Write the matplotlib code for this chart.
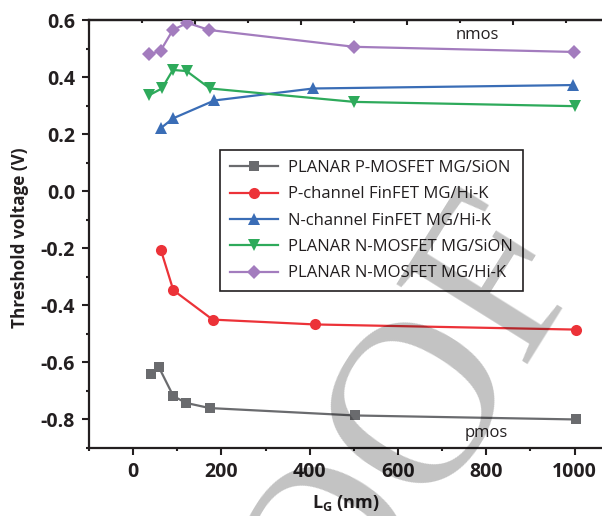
import matplotlib
matplotlib.use("Agg")
import matplotlib.pyplot as plt
from matplotlib.ticker import MultipleLocator, FixedLocator

plt.rcParams['font.family'] = ['Open Sans', 'DejaVu Sans']
plt.rcParams['mathtext.fontset'] = 'custom'
plt.rcParams['mathtext.bf'] = 'Open Sans:bold'
plt.rcParams['mathtext.rm'] = 'Open Sans'

# ---- data: gate length (nm) vs threshold voltage (V) ----
planar_p_sion_x = [41, 58, 91, 120, 173, 503, 1004]
planar_p_sion_y = [-0.64, -0.616, -0.718, -0.742, -0.76, -0.786, -0.80]

pfin_hik_x = [63, 91, 180, 412, 1003]
pfin_hik_y = [-0.207, -0.347, -0.45, -0.467, -0.485]

nfin_hik_x = [62, 90, 184, 408, 997]
nfin_hik_y = [0.22, 0.255, 0.318, 0.36, 0.372]

planar_n_sion_x = [37, 65, 90, 121, 174, 501, 1001]
planar_n_sion_y = [0.337, 0.36, 0.425, 0.421, 0.36, 0.313, 0.298]

planar_n_hik_x = [37, 62, 90, 123, 172, 501, 999]
planar_n_hik_y = [0.48, 0.492, 0.565, 0.59, 0.565, 0.506, 0.488]

series_labels = ["PLANAR P-MOSFET MG/SiON", "P-channel FinFET MG/Hi-K",
                 "N-channel FinFET MG/Hi-K", "PLANAR N-MOSFET MG/SiON",
                 "PLANAR N-MOSFET MG/Hi-K"]
x_ticks = [0, 200, 400, 600, 800, 1000]
y_ticks = [-0.8, -0.6, -0.4, -0.2, 0.0, 0.2, 0.4, 0.6]

colors = ['#6a6b6e', '#ec3238', '#3a6db6', '#2eaa5b', '#a37cbe']
markers = ['s', 'o', '^', 'v', 'D']
msizes = [7, 8, 9, 9, 7.5]
INK = '#231f20'

fig = plt.figure(figsize=(6.02, 5.16), dpi=100)
W, H = 602, 516
ax = fig.add_axes([89 / W, (H - 448) / H, (W - 89) / W, (448 - 20) / H])

xs = [planar_p_sion_x, pfin_hik_x, nfin_hik_x, planar_n_sion_x, planar_n_hik_x]
ys = [planar_p_sion_y, pfin_hik_y, nfin_hik_y, planar_n_sion_y, planar_n_hik_y]
for x, y, c, m, ms, lab in zip(xs, ys, colors, markers, msizes, series_labels):
    ax.plot(x, y, color=c, marker=m, markersize=ms, linewidth=1.6,
            markeredgewidth=0, label=lab, zorder=3)

ax.set_xlim(-100, 1062)
ax.set_ylim(-0.9, 0.6)

ax.set_xticks(x_ticks)
ax.set_xticklabels([str(v) for v in x_ticks])
ax.xaxis.set_minor_locator(FixedLocator([-100, 100, 300, 500, 700, 900]))
ax.set_yticks(y_ticks)
ax.set_yticklabels([f"{v:.1f}" for v in y_ticks])
ax.yaxis.set_minor_locator(MultipleLocator(0.1))

for lbl in ax.get_xticklabels() + ax.get_yticklabels():
    lbl.set_fontweight('bold')
    lbl.set_fontsize(14)
    lbl.set_color(INK)

ax.tick_params(which='major', direction='out', length=5, width=1.5, pad=5,
               color=INK)
ax.tick_params(which='minor', direction='out', length=2.5, width=1.5,
               color=INK)

ax.spines['right'].set_visible(False)
for s in ['left', 'bottom', 'top']:
    ax.spines[s].set_linewidth(1.6)
    ax.spines[s].set_color(INK)

# inward ticks along the top edge
top = ax.secondary_xaxis('top')
top_major = [-100, 140, 380, 620, 860]
top_minor = [20, 260, 500, 740, 980]
top.set_xticks(top_major, labels=[''] * len(top_major))
top.xaxis.set_minor_locator(FixedLocator(top_minor))
top.tick_params(which='major', direction='in', length=3.5, width=1.5, color=INK)
top.tick_params(which='minor', direction='in', length=2, width=1.5, color=INK)
top.spines['top'].set_linewidth(1.6)
top.spines['top'].set_color(INK)

fig.text(20 / W, 1 - 238 / H, "Threshold voltage (V)", rotation=90,
         ha='center', va='center', fontsize=12.3, fontweight='bold', color=INK)
fig.text(346 / W, 1 - 503 / H, r"$\mathbf{L}_\mathbf{G}$ (nm)", ha='center',
         va='center', fontsize=13, fontweight='bold', color=INK)

ax.text(779, 0.547, "nmos", fontsize=12, ha='center', va='center', color=INK)
ax.text(799, -0.849, "pmos", fontsize=12, ha='center', va='center', color=INK)

leg = ax.legend(loc='upper left', bbox_to_anchor=(220 / W, 1 - 150 / H),
                bbox_transform=fig.transFigure, borderaxespad=0,
                fontsize=12, frameon=True, fancybox=False, framealpha=1,
                edgecolor=INK, handlelength=2.9, handletextpad=0.6,
                labelspacing=0.62, borderpad=0.6)
leg.get_frame().set_linewidth(1.2)
for t in leg.get_texts():
    t.set_color(INK)

# diagonal "PROOF" stamp across the figure
fig.text(341 / W, 1 - 546 / H, "PROOF", family='Liberation Serif',
         fontsize=170, rotation=58, ha='center', va='center',
         color='black', alpha=0.24, zorder=10)

fig.savefig("out.png", dpi=100)
